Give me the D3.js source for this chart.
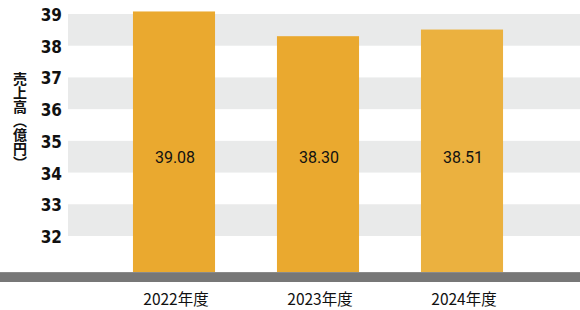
<!DOCTYPE html>
<html>
<head>
<meta charset="utf-8">
<script src="https://cdn.jsdelivr.net/npm/d3@7"></script>
<style>
  body { margin: 0; background: #fff; }
  svg { display: block; }
  .tick-label { font-family: "DejaVu Sans Condensed", "DejaVu Sans", sans-serif; font-weight: bold; font-size: 17px; fill: #111; }
  .value-label { font-family: Roboto, "Liberation Sans", sans-serif; font-size: 16px; fill: #111; }
  .cat-label { font-family: "Noto Sans CJK JP", sans-serif; font-size: 15.5px; fill: #111; }
  .axis-title { font-family: "Noto Sans CJK JP", sans-serif; font-size: 14px; font-weight: 700; fill: #111; writing-mode: vertical-rl; text-orientation: upright; }
</style>
</head>
<body>
<div id="chart"></div>
<script>
// data
const categories = ["2022年度", "2023年度", "2024年度"];
const sales = [39.08, 38.30, 38.51];
const valueLabels = ["39.08", "38.30", "38.51"];
const yTicks = [32, 33, 34, 35, 36, 37, 38, 39];
const bandRanges = [[38, 39], [36, 37], [34, 35], [32, 33]];
const barColors = ["#eaa92f", "#eaa92f", "#ebb13f"];
const yTitle = "売上高（億円）";

const width = 580;
const height = 310;
const baseline = 272;

const svg = d3.select("#chart")
    .append("svg")
    .attr("width", width)
    .attr("height", height);

// --- scales ---
const y = d3.scaleLinear()
    .domain([31, 39])
    .range([267.7, 14]);

const x = d3.scaleBand()
    .domain(categories)
    .range([102, 534])
    .paddingInner(0.43)
    .paddingOuter(0.215);

// --- background bands ---
svg.append("g")
    .selectAll("rect")
    .data(bandRanges)
    .join("rect")
    .attr("x", 68)
    .attr("width", width - 68)
    .attr("y", d => y(d[1]))
    .attr("height", d => y(d[0]) - y(d[1]))
    .attr("fill", "#e9eaea");

// --- bars ---
svg.append("g")
    .selectAll("rect")
    .data(sales)
    .join("rect")
    .attr("x", (d, i) => x(categories[i]))
    .attr("width", x.bandwidth())
    .attr("y", d => y(d))
    .attr("height", d => baseline - y(d))
    .attr("fill", (d, i) => barColors[i]);

// value labels (all at same height)
svg.append("g")
    .selectAll("text")
    .data(valueLabels)
    .join("text")
    .attr("class", "value-label")
    .attr("x", (d, i) => x(categories[i]) + x.bandwidth() / 2 + 1)
    .attr("y", 157)
    .attr("text-anchor", "middle")
    .attr("dominant-baseline", "central")
    .text(d => d);

// --- baseline bar ---
svg.append("rect")
    .attr("x", 0)
    .attr("y", baseline)
    .attr("width", width)
    .attr("height", 10)
    .attr("fill", "#777777");
svg.append("rect")
    .attr("x", 0)
    .attr("y", baseline)
    .attr("width", width)
    .attr("height", 1)
    .attr("fill", "#8a8a8a");

// --- y axis labels ---
svg.append("g")
    .selectAll("text")
    .data(yTicks)
    .join("text")
    .attr("class", "tick-label")
    .attr("x", 62)
    .attr("y", d => y(d) + 1)
    .attr("text-anchor", "end")
    .attr("dominant-baseline", "central")
    .text(d => d);

// --- x labels ---
svg.append("g")
    .selectAll("text")
    .data(categories)
    .join("text")
    .attr("class", "cat-label")
    .attr("x", d => x(d) + x.bandwidth() / 2 + 2)
    .attr("y", 298)
    .attr("text-anchor", "middle")
    .attr("dominant-baseline", "central")
    .text(d => d);

// --- y axis title, vertical ---
svg.append("text")
    .attr("class", "axis-title")
    .attr("x", 20)
    .attr("y", 72)
    .text(yTitle);
</script>
</body>
</html>
